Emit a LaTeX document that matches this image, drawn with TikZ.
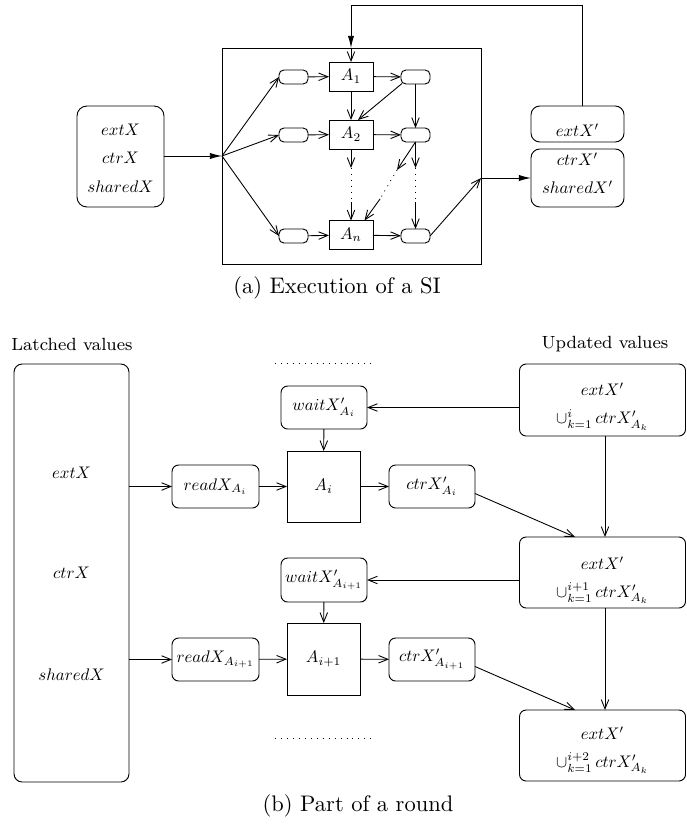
\documentclass[tikz,border=0pt]{standalone}
\usepackage{graphicx}
\usetikzlibrary{arrows.meta,calc}
\newcommand\mtx[1]{\scalebox{0.76}{$#1$}}
\tikzset{
  x=0.453pt, y=-0.453pt,
  every node/.style={inner sep=0pt, outer sep=0pt},
  wh/.style 2 args={minimum width=#1*0.453pt, minimum height=#2*0.453pt},
  rbox/.style={draw, rounded corners=3pt, line width=0.42pt},
  tbox/.style={draw, rounded corners=2.2pt, line width=0.42pt},
  sbox/.style={draw, line width=0.42pt},
  conn/.style={line width=0.4pt, -{Straight Barb[length=4.2pt,width=3.4pt]}},
  fconn/.style={line width=0.4pt, -{Latex[length=5.5pt,width=2.8pt]}},
  dots/.style={line width=0.4pt, dash pattern=on 0.4pt off 2.3pt},
  mtxt/.style={font=\fontsize{10}{12}\selectfont},
  lbl/.style={font=\fontsize{8}{10}\selectfont},
  captxt/.style={font=\fontsize{10.2}{12}\selectfont},
}
\begin{document}
\begin{tikzpicture}
\useasboundingbox (0,0) rectangle (686,825);

% ---------------- (a) ----------------
\node[rbox, rounded corners=4.5pt, wh={87}{101}] (inL) at (120.5,156.5) {};
\node[mtxt] (tin1) at (120.5,130) {\mtx{extX}};
\node[mtxt] (tin2) at (120.5,158) {\mtx{ctrX}};
\node[mtxt] (tin3) at (120.5,187) {\mtx{sharedX}};

\node[sbox, wh={259}{216}] (big) at (351.5,156) {};
\coordinate (F) at (222,156);
\coordinate (T) at (351,48);
\coordinate (G) at (481,178);

\node[tbox, wh={29}{14}] (L1) at (293.5,77) {};
\node[tbox, wh={29}{14}] (L2) at (293.5,135) {};
\node[tbox, wh={29}{14}] (L3) at (293.5,236) {};
\node[sbox, wh={44}{29}, mtxt] (A1) at (351,76.5) {\mtx{A_1}};
\node[sbox, wh={44}{29}, mtxt] (A2) at (351,134.5) {\mtx{A_2}};
\node[sbox, wh={44}{29}, mtxt] (An) at (351,235) {\mtx{A_n}};
\node[tbox, wh={29}{14}] (R1) at (415.5,77) {};
\node[tbox, wh={29}{14}] (R2) at (415.5,135) {};
\node[tbox, wh={29}{14}] (R3) at (415.5,236) {};

\node[rbox, rounded corners=4pt, wh={93}{36}] (E1) at (577.5,124) {};
\node[rbox, rounded corners=4pt, wh={93}{58}] (E2) at (577.5,178) {};
\node[mtxt] (te1) at (577.5,130) {\mtx{extX'}};
\node[mtxt] (te2) at (577.5,159) {\mtx{ctrX'}};
\node[mtxt] (te3) at (577.5,187) {\mtx{sharedX'}};

\draw[fconn] (inL.east |- F) -- (F);
\draw[conn] (F) -- (L1.west);
\draw[conn] (F) -- (L2.west);
\draw[conn] (F) -- (L3.west);
\draw[conn] (L1) -- (A1);
\draw[conn] (L2) -- (A2);
\draw[conn] (L3) -- (An);
\draw[conn] (A1) -- (R1);
\draw[conn] (A2) -- (R2);
\draw[conn] (An) -- (R3);
\draw[conn] (A1) -- (A2);
\draw[conn] (R1) -- (R2);
\coordinate (r1o) at (402,83.5);
\coordinate (a2i) at (358,120);
\draw[conn] (r1o) -- (a2i);

\coordinate (d1a) at (351,168);
\coordinate (d1b) at (351,202);
\draw[conn] (A2) -- (d1a);
\draw[dots] (d1a) -- (d1b);
\draw[conn] (d1b) -- (An);
\coordinate (d2a) at (415.5,168);
\coordinate (d2b) at (415.5,202);
\draw[conn] (R2) -- (d2a);
\draw[dots] (d2a) -- (d2b);
\draw[conn] (d2b) -- (R3);
\coordinate (d3a) at (397,170);
\coordinate (d3b) at (380,199);
\coordinate (ani) at (364.5,220.5);
\draw[conn] (R2.south) -- (d3a);
\draw[dots] (d3a) -- (d3b);
\draw[conn] (d3b) -- (ani);

\draw[conn] (R3.east) -- (G);
\draw[fconn] (G) -- (E2.west |- G);
\coordinate (fbs) at (582,106);
\coordinate (fbk) at (351,5);
\draw[fconn] (fbs) |- (fbk) -- (T);
\draw[conn] (T) -- (A1.north);

\node[captxt] (capa) at (337,288) {(a) Execution of a SI};

% ---------------- (b) ----------------
\node[lbl] (lat) at (72,344) {Latched values};
\node[lbl] (upd) at (605,344) {Updated values};

\node[rbox, rounded corners=3.7pt, wh={115}{418}] (LB) at (71.5,573) {};
\node[mtxt] (lb1) at (71.5,473) {\mtx{extX}};
\node[mtxt] (lb2) at (71.5,573) {\mtx{ctrX}};
\node[mtxt] (lb3) at (71.5,675) {\mtx{sharedX}};

\coordinate (dt1) at (275,363);
\coordinate (dt2) at (373,363);
\coordinate (db1) at (275,738);
\coordinate (db2) at (373,738);
\draw[dots] (dt1) -- (dt2);
\draw[dots] (db1) -- (db2);

\node[rbox, wh={86}{43}, mtxt] (W1) at (324,407.5) {\mtx{waitX'_{A_i}}};
\node[sbox, wh={73}{71}, mtxt] (Ai) at (323.5,486.5) {\mtx{A_i}};
\node[rbox, wh={87}{43}, mtxt] (Rd1) at (215.5,486.5) {\mtx{readX_{A_i}}};
\node[rbox, wh={86}{43}, mtxt] (C1) at (432,486.5) {\mtx{ctrX'_{A_i}}};

\node[rbox, wh={86}{44}, mtxt] (W2) at (324,580) {\mtx{waitX'_{A_{i+1}}}};
\node[sbox, wh={73}{72}, mtxt] (Ai1) at (323.5,659) {\mtx{A_{i+1}}};
\node[rbox, wh={87}{43}, mtxt] (Rd2) at (215.5,659.5) {\mtx{readX_{A_{i+1}}}};
\node[rbox, wh={86}{43}, mtxt] (C2) at (432,659.5) {\mtx{ctrX'_{A_{i+1}}}};

\node[rbox, wh={166}{72}] (U1) at (602.5,400) {};
\node[mtxt] (u1a) at (602.5,389) {\mtx{extX'}};
\node[mtxt] (u1b) at (602.5,420) {\mtx{\cup_{k=1}^{i}\,ctrX'_{A_k}}};
\node[rbox, wh={166}{71}] (U2) at (602.5,572.5) {};
\node[mtxt] (u2a) at (602.5,563) {\mtx{extX'}};
\node[mtxt] (u2b) at (602.5,593) {\mtx{\cup_{k=1}^{i+1}\,ctrX'_{A_k}}};
\node[rbox, wh={166}{71}] (U3) at (602.5,745.5) {};
\node[mtxt] (u3a) at (602.5,733) {\mtx{extX'}};
\node[mtxt] (u3b) at (602.5,763) {\mtx{\cup_{k=1}^{i+2}\,ctrX'_{A_k}}};

\draw[conn] (LB.east |- Rd1) -- (Rd1.west);
\draw[conn] (Rd1) -- (Ai);
\draw[conn] (Ai) -- (C1);
\draw[conn] (W1) -- (Ai);
\draw[conn] (U1.west |- W1) -- (W1.east);
\coordinate (u2in) at (575,537);
\draw[conn] ($(C1.east)+(0,7)$) -- (u2in);
\draw[conn] ($(U1.south)+(2.5,0)$) -- ($(U2.north)+(2.5,0)$);

\draw[conn] (LB.east |- Rd2) -- (Rd2.west);
\draw[conn] (Rd2) -- (Ai1);
\draw[conn] (Ai1) -- (C2);
\draw[conn] (W2) -- (Ai1);
\draw[conn] (U2.west |- W2) -- (W2.east);
\coordinate (u3in) at (575,710);
\draw[conn] ($(C2.east)+(0,7)$) -- (u3in);
\draw[conn] ($(U2.south)+(2.5,0)$) -- ($(U3.north)+(2.5,0)$);

\node[captxt] (capb) at (358,806) {(b) Part of a round};
\end{tikzpicture}
\end{document}
